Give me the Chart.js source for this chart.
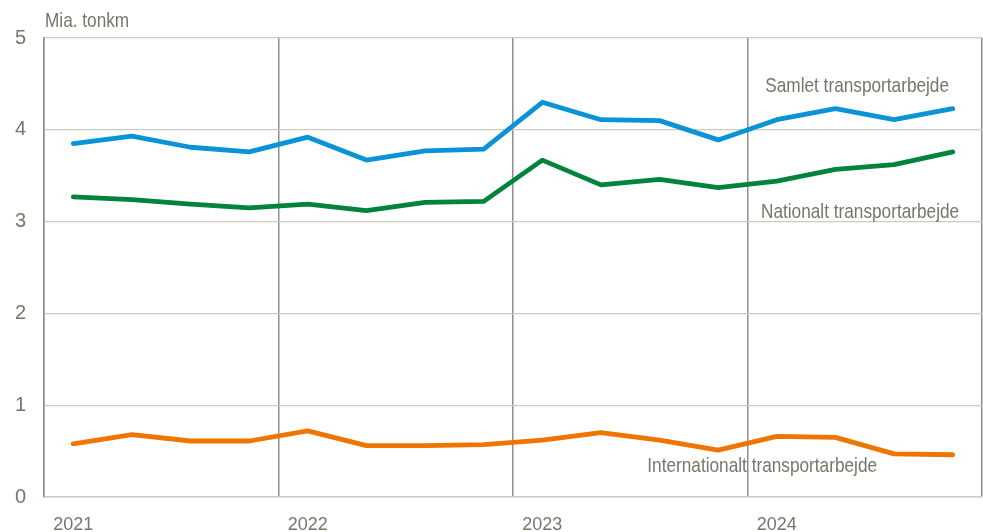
<!DOCTYPE html>
<html>
<head>
<meta charset="utf-8">
<script src="https://cdn.jsdelivr.net/npm/chart.js@4"></script>
<style>
  body { margin: 0; background: #fff; }
</style>
</head>
<body>
<canvas id="chart" width="983" height="532"></canvas>
<script>
// data: quarters 2021K1 - 2024K4, mia. tonkm
const quarters = ["2021K1", "2021K2", "2021K3", "2021K4", "2022K1", "2022K2", "2022K3", "2022K4",
                  "2023K1", "2023K2", "2023K3", "2023K4", "2024K1", "2024K2", "2024K3", "2024K4"];
const yearLabels = ["2021", "", "", "", "2022", "", "", "", "2023", "", "", "", "2024", "", "", ""];

const samlet = [3.85, 3.93, 3.81, 3.76, 3.92, 3.67, 3.77, 3.79, 4.30, 4.11, 4.10, 3.89, 4.11, 4.23, 4.11, 4.23];
const nationalt = [3.27, 3.24, 3.19, 3.15, 3.19, 3.12, 3.21, 3.22, 3.67, 3.40, 3.46, 3.37, 3.44, 3.57, 3.62, 3.76];
const internationalt = [0.58, 0.68, 0.61, 0.61, 0.72, 0.56, 0.56, 0.57, 0.62, 0.70, 0.62, 0.51, 0.66, 0.65, 0.47, 0.46];

const FONT = "'Liberation Sans', Arial, sans-serif";
const TEXT = "#76766a";
const GRID = "#cbcbc0";
const DIVIDER = "#8e8e8e";

// narrow text: regular font squeezed horizontally
function narrowText(ctx, text, x, y, squeeze) {
  ctx.save();
  ctx.translate(x, y);
  ctx.scale(squeeze, 1);
  ctx.fillText(text, 0, 0);
  ctx.restore();
}

// series labels written inside the plot
const seriesLabels = {
  id: "seriesLabels",
  afterDatasetsDraw(chart, args, opts) {
    const { ctx, scales: { x, y }, chartArea } = chart;
    ctx.save();
    ctx.fillStyle = TEXT;
    ctx.font = "21px " + FONT;
    ctx.textBaseline = "middle";
    ctx.textAlign = "center";
    opts.items.forEach(it => {
      narrowText(ctx, it.text, x.getPixelForValue(it.x), y.getPixelForValue(it.y), 0.82);
    });
    ctx.textAlign = "left";
    narrowText(ctx, opts.unit, chartArea.left + 1, chartArea.top - 17, 0.82);
    ctx.restore();
  }
};

new Chart(document.getElementById("chart"), {
  type: "line",
  data: {
    labels: quarters,
    datasets: [
      { label: "Samlet transportarbejde", data: samlet, borderColor: "#0a93d6" },
      { label: "Nationalt transportarbejde", data: nationalt, borderColor: "#00843d" },
      { label: "Internationalt transportarbejde", data: internationalt, borderColor: "#f07400" },
    ],
  },
  options: {
    responsive: false,
    animation: false,
    layout: { padding: { top: 38, right: 1, left: 0, bottom: 0 } },
    elements: {
      line: { borderWidth: 4.8, tension: 0, borderCapStyle: "round", borderJoinStyle: "round" },
      point: { radius: 0 },
    },
    plugins: {
      legend: { display: false },
      tooltip: { enabled: false },
      seriesLabels: {
        unit: "Mia. tonkm",
        items: [
          { text: "Samlet transportarbejde", x: 13.37, y: 4.47 },
          { text: "Nationalt transportarbejde", x: 13.42, y: 3.1 },
          { text: "Internationalt transportarbejde", x: 11.75, y: 0.34 },
        ],
      },
    },
    scales: {
      x: {
        offset: true,
        grid: {
          offset: true,
          drawTicks: false,
          lineWidth: 1.5,
          color: c => (c.index === undefined || c.index % 4 === 0) ? DIVIDER : "transparent",
        },
        border: { color: GRID, width: 1.5 },
        ticks: {
          autoSkip: false,
          maxRotation: 0,
          padding: 17,
          color: TEXT,
          font: { family: FONT, size: 18 },
          callback: (v, i) => yearLabels[i],
        },
        afterFit: s => { s.height = 35; },
      },
      y: {
        min: 0,
        max: 5,
        ticks: { stepSize: 1, padding: 18, color: TEXT, font: { family: FONT, size: 20 } },
        grid: { color: GRID, lineWidth: 1.2, drawTicks: false },
        border: { color: DIVIDER, width: 1.5 },
        afterFit: s => { s.width = 44; },
      },
    },
  },
  plugins: [seriesLabels],
});
</script>
</body>
</html>
